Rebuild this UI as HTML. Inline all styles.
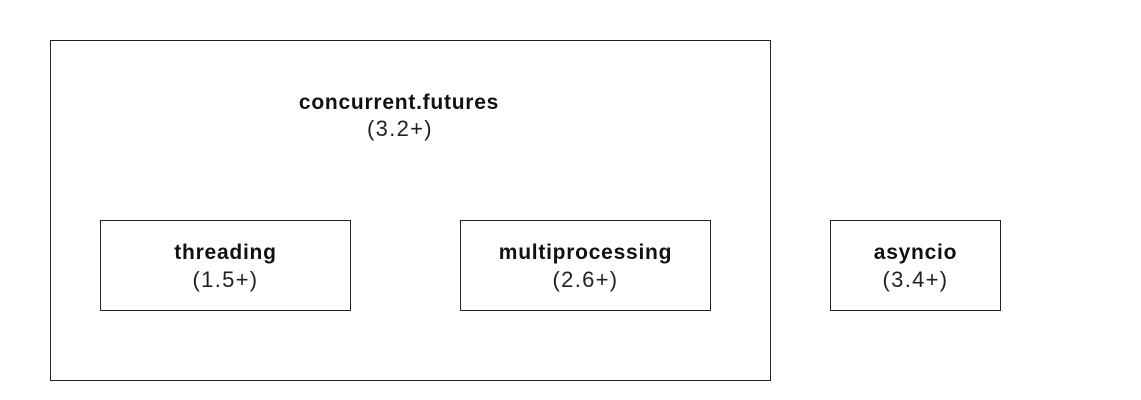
<!DOCTYPE html>
<html><head><meta charset="utf-8"><style>
html,body{margin:0;padding:0;background:#fff;}
body{width:1141px;height:400px;position:relative;overflow:hidden;font-family:"Liberation Sans",Arial,sans-serif;color:#000;}
.box{position:absolute;border:1px solid #222;box-sizing:border-box;background:#fff;}
.t{position:absolute;left:0;right:0;text-align:center;font-size:22px;line-height:26px;letter-spacing:1.3px;color:#222;}
.b{font-weight:bold;font-size:21px;letter-spacing:0.75px;color:#111;}
</style></head><body>
<div class="box" style="left:50px;top:40px;width:721px;height:341px;">
  <div class="t b" style="top:49px;right:auto;width:696px;">concurrent.futures</div>
  <div class="t" style="top:75px;right:auto;width:698px;">(3.2+)</div>
</div>
<div class="box" style="left:100px;top:220px;width:251px;height:91px;">
  <div class="t b" style="top:19px;">threading</div>
  <div class="t" style="top:46px;">(1.5+)</div>
</div>
<div class="box" style="left:460px;top:220px;width:251px;height:91px;">
  <div class="t b" style="top:19px;">multiprocessing</div>
  <div class="t" style="top:46px;">(2.6+)</div>
</div>
<div class="box" style="left:830px;top:220px;width:171px;height:91px;">
  <div class="t b" style="top:19px;">asyncio</div>
  <div class="t" style="top:46px;">(3.4+)</div>
</div>
</body></html>
